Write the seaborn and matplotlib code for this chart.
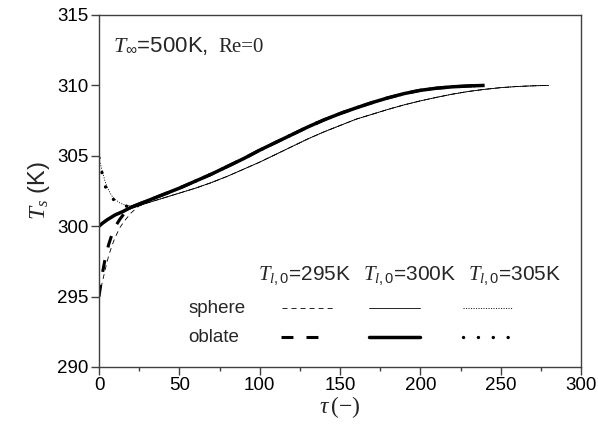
import matplotlib
matplotlib.use("Agg")
import matplotlib.pyplot as plt
import seaborn as sns
import numpy as np
import pandas as pd
from matplotlib.lines import Line2D

# ---------------- data ----------------
# shared late-time tails
tail_tau_oblate = [20, 30, 40, 50, 60, 70, 80, 90, 100, 110, 120, 130, 140, 150, 160, 170, 180, 190, 200, 210, 220, 230, 240]
tail_T_oblate   = [301.35, 301.8, 302.25, 302.7, 303.2, 303.7, 304.25, 304.8, 305.4, 305.95, 306.5, 307.05, 307.55, 308.0, 308.4, 308.78, 309.12, 309.42, 309.65, 309.8, 309.9, 309.96, 310.0]
tail_tau_sphere = [25, 30, 40, 50, 60, 70, 80, 90, 100, 110, 120, 130, 140, 150, 160, 170, 180, 190, 200, 210, 220, 230, 240, 250, 260, 270, 280]
tail_T_sphere   = [301.45, 301.65, 302.0, 302.35, 302.7, 303.1, 303.55, 304.05, 304.55, 305.1, 305.65, 306.2, 306.7, 307.15, 307.6, 307.95, 308.3, 308.62, 308.9, 309.15, 309.38, 309.57, 309.72, 309.84, 309.92, 309.97, 310.0]

# early-time parts
early_tau_obl_295 = [0, 1, 2, 4, 6, 8, 10, 13, 16]
early_T_obl_295   = [295.0, 295.8, 296.6, 297.8, 298.7, 299.4, 299.95, 300.5, 300.95]
early_tau_obl_300 = [0, 2, 5, 10, 15]
early_T_obl_300   = [300.0, 300.2, 300.45, 300.8, 301.05]
early_tau_obl_305 = [0, 1, 2, 3, 4, 6, 8, 10, 13, 16]
early_T_obl_305   = [304.85, 304.3, 303.7, 303.2, 302.8, 302.35, 302.0, 301.8, 301.6, 301.45]

early_tau_sph_295 = [0, 2, 4, 6, 8, 10, 13, 16, 20]
early_T_sph_295   = [295.0, 296.0, 297.0, 297.9, 298.6, 299.2, 299.9, 300.4, 300.95]
early_tau_sph_300 = [0, 2, 5, 10, 15, 20]
early_T_sph_300   = [300.0, 300.2, 300.45, 300.8, 301.05, 301.25]
early_tau_sph_305 = [0, 2, 4, 6, 8, 10, 13, 16, 20]
early_T_sph_305   = [304.85, 303.9, 303.1, 302.55, 302.15, 301.9, 301.65, 301.5, 301.45]

legend_headers = ["295K", "300K", "305K"]
row_labels = ["sphere", "oblate"]

# ---------------- style ----------------
sns.set_theme(style="ticks")
plt.rcParams["font.family"] = ["Liberation Sans", "DejaVu Sans"]
plt.rcParams["mathtext.fontset"] = "custom"
plt.rcParams["mathtext.rm"] = "Liberation Sans"
plt.rcParams["mathtext.it"] = "Liberation Serif:italic"
plt.rcParams["mathtext.sf"] = "Liberation Serif"
plt.rcParams["lines.scale_dashes"] = False

fig = plt.figure(figsize=(5.98, 4.26), dpi=100)
ax = fig.add_axes([0.1656, 0.1385, 0.806, 0.8263])

styles = {
    ("sphere", 295): dict(lw=0.6, ls=(0, (3.6, 2.9))),
    ("sphere", 300): dict(lw=0.6, ls="-"),
    ("sphere", 305): dict(lw=0.6, ls=(0, (0.8, 1.0))),
    ("oblate", 295): dict(lw=2.2, ls=(0, (8.6, 9.4))),
    ("oblate", 300): dict(lw=2.5, ls="-"),
    ("oblate", 305): dict(lw=2.4, ls=(0, (0.1, 10.6))),
}

series = {
    ("sphere", 295): (early_tau_sph_295 + tail_tau_sphere, early_T_sph_295 + tail_T_sphere),
    ("sphere", 300): (early_tau_sph_300 + tail_tau_sphere, early_T_sph_300 + tail_T_sphere),
    ("sphere", 305): (early_tau_sph_305 + tail_tau_sphere, early_T_sph_305 + tail_T_sphere),
    ("oblate", 295): (early_tau_obl_295 + tail_tau_oblate, early_T_obl_295 + tail_T_oblate),
    ("oblate", 300): (early_tau_obl_300 + tail_tau_oblate, early_T_obl_300 + tail_T_oblate),
    ("oblate", 305): (early_tau_obl_305 + tail_tau_oblate, early_T_obl_305 + tail_T_oblate),
}

for key, (tx, ty) in series.items():
    st = styles[key]
    df = pd.DataFrame({"tau": tx, "T": ty})
    cap = "round" if key == ("oblate", 305) else "butt"
    sns.lineplot(data=df, x="tau", y="T", ax=ax, color="black", lw=st["lw"],
                 linestyle=st["ls"], errorbar=None, sort=True,
                 solid_capstyle="butt", dash_capstyle=cap)

ax.set_xlim(0, 300)
ax.set_ylim(290, 315)
ax.set_xticks(np.arange(0, 301, 50))
ax.set_xticks(np.arange(25, 300, 50), minor=True)
ax.set_yticks(np.arange(290, 316, 5))
ax.tick_params(axis="both", which="major", direction="out", length=5.5, width=1,
               color="#404040", labelsize=13.5, labelcolor="black", pad=2)
ax.tick_params(axis="x", which="minor", direction="out", length=3, width=1, color="#404040")
for sp in ax.spines.values():
    sp.set_visible(True)
    sp.set_color("#404040")
    sp.set_linewidth(1.0)

ax.set_xlabel(r"$\tau\,\mathsf{(-)}$", fontsize=17, labelpad=0)
ax.set_ylabel(r"$T_{s}$ (K)", fontsize=17, labelpad=4)

ax.text(0.028, 0.896, r"$T_{\infty}$=500K,", transform=ax.transAxes,
        fontsize=16, va="baseline", ha="left")
ax.text(0.247, 0.896, "Re=0", transform=ax.transAxes, family="Liberation Serif",
        fontsize=15, va="baseline", ha="left")

# legend-like block
hdr_x = [0.330, 0.548, 0.766]
for x, h in zip(hdr_x, legend_headers):
    ax.text(x, 0.2585, r"$T_{l,0}$=" + h, transform=ax.transAxes, fontsize=15,
            va="center", ha="left")
row_y = [0.167, 0.085]
for y, lab in zip(row_y, row_labels):
    ax.text(0.185, y, lab, transform=ax.transAxes, fontsize=13.5, va="center", ha="left")
col_x = {
    "sphere": [(0.380, 0.485), (0.560, 0.666), (0.755, 0.859)],
    "oblate": [(0.378, 0.455), (0.560, 0.666), (0.755, 0.859)],
}
for y, lab in zip(row_y, row_labels):
    for ci, T0 in enumerate([295, 300, 305]):
        st = styles[(lab, T0)]
        x0, x1 = col_x[lab][ci]
        cap = "round" if (lab == "oblate" and T0 == 305) else "butt"
        ln = Line2D([x0, x1], [y, y], transform=ax.transAxes, color="black",
                    lw=st["lw"], linestyle=st["ls"], dash_capstyle=cap)
        ax.add_line(ln)

fig.savefig("out.png", dpi=100)
